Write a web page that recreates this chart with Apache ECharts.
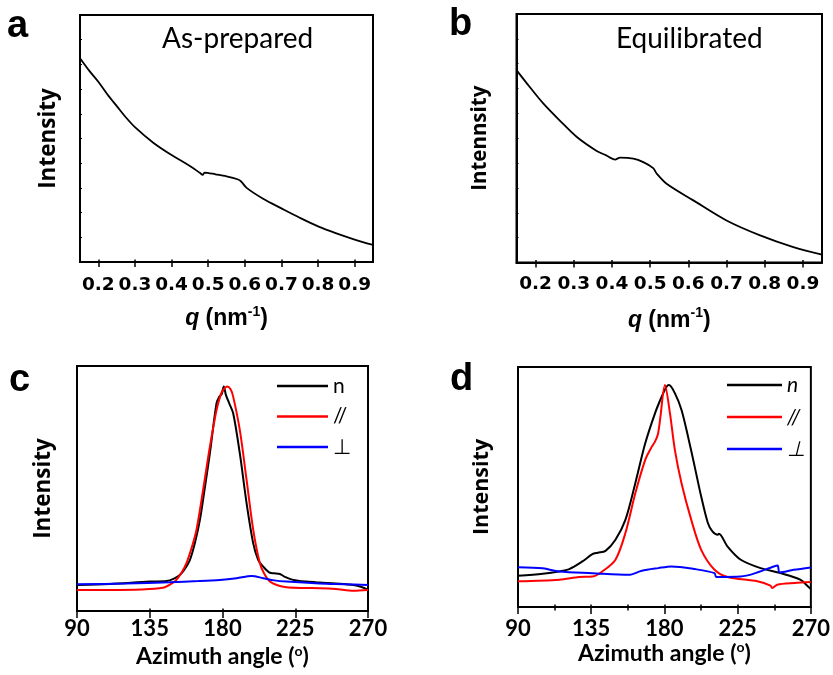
<!DOCTYPE html>
<html><head><meta charset="utf-8">
<script src="https://cdn.jsdelivr.net/npm/echarts@6/dist/echarts.min.js"></script>
<style>html,body{margin:0;padding:0;background:#fff}#c{width:833px;height:675px}</style>
</head><body><div id="c"></div><script>
// ---------- Panel a (As-prepared) ----------
const qA = [0.15,0.175,0.2,0.225,0.25,0.275,0.3,0.35,0.4,0.45,0.478,0.485,0.49,0.52,0.55,0.58,0.59,0.605,0.65,0.7,0.75,0.8,0.85,0.9,0.95];
const iA = [82.5,77.5,73.0,67.8,63.2,58.6,54.6,48.3,43.3,38.9,36.0,35.3,36.2,35.5,34.7,33.5,32.6,30.0,25.6,21.7,17.9,14.4,11.6,9.1,6.9];
// ---------- Panel b (Equilibrated) ----------
const qB = [0.15,0.177,0.22,0.264,0.308,0.36,0.385,0.408,0.421,0.456,0.482,0.508,0.517,0.543,0.613,0.7,0.788,0.875,0.95];
const iB = [77.4,72.1,64.0,57.0,50.5,44.9,43.1,41.4,42.2,41.8,40.4,38.0,35.8,31.7,25.0,16.9,10.9,6.2,3.2];
// ---------- Panel c ----------
const aC_n = [90,110,135,145.4,150,153.6,156.5,159.8,163,166,169,172.2,176.3,178,179.5,180.8,182.1,184,186.6,190.7,194.9,199,202,205.2,209.3,212,215.5,219,223.7,232,240.3,250,261,266,270];
const vC_n = [10.6,11.0,12.0,12.2,13.2,14.7,17,20.8,28,37.1,50,64.4,84.8,87.5,88.5,91.6,88.2,85,80.7,64.4,44.0,27.6,21,18.1,15.6,15.4,15.1,13.8,12.7,12.0,11.6,11.2,10.6,9.8,8.6];
const aC_par = [90,110,130,143,148,151.5,155,157.7,161,163.9,168,172.2,176.3,179,180.4,182.9,185,186.6,190.7,194.9,199,203.1,206,209.3,214,219.6,230,240.3,250,261,270];
const vC_par = [8.6,8.6,8.8,9.5,11,12.7,16,19.5,26,33.1,49.4,67.1,82.0,88.5,90.2,91.6,90.5,87.5,73.9,53.5,33.1,19.5,15,12.0,10.5,9.7,9.4,9.3,9.0,8.3,8.6];
const aC_perp = [90,120,147.4,165,178.4,188.7,198,205.2,212,219.6,240,255,270];
const vC_perp = [10.9,11.2,11.7,12.2,12.7,13.4,14.3,13.4,12.5,12.0,11.2,10.9,10.6];
// ---------- Panel d ----------
const aD_n = [90,105.2,115,121.5,129.6,135.7,139,143.8,149.9,156,162.1,168.2,174.2,178.3,181.3,182.8,186.4,190.5,194.5,198.6,202.6,206.7,209.5,212.8,213.5,218.8,226.9,239.1,251.3,263.5,268.6,270];
const vD_n = [13.0,13.9,14.8,15.8,19.0,22.0,22.6,23.4,28.0,36.3,51.6,68.2,80.7,87.6,91.8,92.5,89.1,82.1,71.0,58.5,46.0,35.0,31.5,30.1,30.5,25.2,19.7,16.2,14.1,11.4,8.3,7.5];
const aD_par = [90,115.4,127.6,135.7,141.8,149.9,156,162.1,168.2,172,174.2,176,177.3,180.3,183.4,186.4,190.5,196.5,202.6,210.8,218.8,237.1,245.2,246.2,249.3,260,270];
const vD_par = [10.7,11.4,12.5,12.7,14.8,19.7,30.8,47.4,61.3,66.5,68.9,72,77.9,92.5,80.7,65.5,51.6,36.3,23.8,15.5,12.5,10.7,8.9,7.9,9.3,10.0,10.4];
const aD_perp = [90,105.2,115.4,135.7,158,166.1,176.2,184.3,198.6,210.8,211.8,226.9,235,247.2,249.6,250.8,259.4,270];
const vD_perp = [16.6,16.1,14.8,14.1,13.4,15.1,16.2,16.9,15.8,14.1,12.5,12.7,13.9,16.9,17.3,14.4,15.5,16.5];
// ---------- ticks / labels ----------
const qTicks = [0.2,0.3,0.4,0.5,0.6,0.7,0.8,0.9];
const angTopC = [135,180,225];
const angTopD = [112.5,135,157.5,180,202.5,225,247.5];
const legendNames = ['n','//','\u22A5'];

const zip = (x, y) => x.map((v, i) => [v, y[i]]);
const BLK = '#000';
const boldArial = {fontFamily:'Liberation Sans', fontWeight:'bold', color:BLK};
const boldDejaVu = {fontFamily:'DejaVu Sans', fontWeight:'bold', color:BLK};
const boldLato = {fontFamily:'Lato', fontWeight:'bold', color:BLK};
const boldOpen = {fontFamily:'Open Sans', fontWeight:'bold', color:BLK};

const grids = [
  {left:80, top:15, width:293, height:247},
  {left:516.5, top:14, width:305.5, height:248.5},
  {left:77, top:366, width:291, height:245},
  {left:518, top:367, width:296, height:240}
].map(g => Object.assign({show:true, borderColor:BLK, borderWidth:2, backgroundColor:'transparent'}, g));

function qAxis(gi, margin, gap){
  return {type:'value', gridIndex:gi, min:0.15, max:0.95,
    axisLine:{show:true, onZero:false, lineStyle:{color:BLK, width:2}},
    axisTick:{show:true, customValues:qTicks, length:5, lineStyle:{color:BLK, width:1.5}},
    axisLabel:Object.assign({customValues:qTicks, formatter:v=>v.toFixed(1), margin:margin, fontSize:18.5}, boldDejaVu),
    splitLine:{show:false},
    name:'{i|q} (nm{s|-1})', nameLocation:'middle', nameGap:gap,
    nameTextStyle:Object.assign({fontSize:23, lineHeight:28, rich:{
      i:{fontStyle:'italic', fontWeight:'bold', fontFamily:'Liberation Sans', fontSize:23, lineHeight:28, color:BLK},
      s:{fontWeight:'bold', fontFamily:'Liberation Sans', fontSize:14, lineHeight:14, verticalAlign:'top', color:BLK}
    }}, boldArial)
  };
}
function angAxis(gi, margin, gap, minor){
  return {type:'value', gridIndex:gi, min:90, max:270, interval:45,
    axisLine:{show:true, onZero:false, lineStyle:{color:BLK, width:2}},
    axisTick:{show:true, length:7, lineStyle:{color:BLK, width:1.5}},
    minorTick:{show:minor, splitNumber:2, length:3.5, lineStyle:{color:BLK, width:1.5}},
    axisLabel:Object.assign({margin:margin, fontSize:22, showMinLabel:true, showMaxLabel:true}, boldLato),
    splitLine:{show:false},
    name:'Azimuth angle ({s|o})', nameLocation:'middle', nameGap:gap,
    nameTextStyle:Object.assign({fontSize:23, lineHeight:26, rich:{
      s:{fontWeight:'bold', fontFamily:'Lato', fontSize:14, lineHeight:14, verticalAlign:'top', color:BLK}
    }}, boldLato)
  };
}
function topAxis(gi, min, max, vals){
  return {type:'value', gridIndex:gi, position:'top', min:min, max:max,
    axisLine:{show:false}, axisLabel:{show:false}, splitLine:{show:false},
    axisTick:{show:true, customValues:vals, length:2.5, lineStyle:{color:BLK, width:1.5}}};
}
function yAxis(gi, name, size, gap, ticks){
  return {type:'value', gridIndex:gi, min:0, max:100, interval:10,
    axisLine:{show:true, onZero:false, lineStyle:{color:BLK, width:2}},
    axisTick:{show:ticks, inside:true, length:2, lineStyle:{color:BLK, width:1}},
    axisLabel:{show:false}, splitLine:{show:false},
    name:name, nameLocation:'middle', nameRotate:90, nameGap:gap,
    nameTextStyle:Object.assign({fontSize:size}, boldOpen)};
}
function line(name, xi, data, color, w){
  return {name:name, type:'line', xAxisIndex:xi, yAxisIndex:xi, data:data,
    showSymbol:false, symbol:'none', smooth:0.3, silent:true,
    lineStyle:{color:color, width:w}, itemStyle:{color:color}};
}
const letter = (t, l, tp) => ({text:t, left:l, top:tp, padding:0,
  textStyle:Object.assign({fontSize:38}, boldArial)});
const sampleTitle = (t, l, tp) => ({text:t, left:l, top:tp, padding:0,
  textStyle:{fontFamily:'Lato', fontWeight:'normal', fontSize:28, color:BLK}});

function legend(names, left, top, gap, w, italic){
  return {orient:'vertical', left:left, top:top, padding:0, itemGap:gap,
    itemWidth:w, itemHeight:2.5, itemTextGap:italic?4:7, icon:'rect',
    data:names, selectedMode:false,
    formatter: n => n.replace(' (d)',''),
    textStyle:{fontFamily:'Lato', fontSize:21, lineHeight:21, color:BLK, fontStyle:italic?'italic':'normal'}};
}

const option = {
  animation:false,
  backgroundColor:'#fff',
  title:[letter('a',7,8), letter('b',449,6), letter('c',9,362), letter('d',450,361),
         sampleTitle('As-prepared',162,25), sampleTitle('Equilibrated',616,25)],
  grid:grids,
  xAxis:[qAxis(0,14,43), qAxis(1,12,44), angAxis(2,7,33,false), angAxis(3,10.5,30,true),
         topAxis(0,0.15,0.95,qTicks), topAxis(1,0.15,0.95,qTicks), topAxis(2,90,270,angTopC), topAxis(3,90,270,angTopD)],
  yAxis:[yAxis(0,'Intensity',22.5,20,true), yAxis(1,'Intennsity',20.5,26,true), yAxis(2,'Intensity',22.5,22,false), yAxis(3,'Intensity',21.5,25,false)],
  legend:[
    legend(legendNames, 277, 375.5, 9.5, 51, false),
    legend(legendNames.map(n=>n+' (d)'), 727, 374.5, 11, 55, true)
  ],
  series:[
    line('a', 0, zip(qA,iA), BLK, 1.8),
    line('b', 1, zip(qB,iB), BLK, 1.8),
    line('n', 2, zip(aC_n,vC_n), BLK, 2),
    line('//', 2, zip(aC_par,vC_par), '#ff0000', 2),
    line('\u22A5', 2, zip(aC_perp,vC_perp), '#0000ff', 2),
    line('n (d)', 3, zip(aD_n,vD_n), BLK, 2),
    line('// (d)', 3, zip(aD_par,vD_par), '#ff0000', 2),
    line('\u22A5 (d)', 3, zip(aD_perp,vD_perp), '#0000ff', 2)
  ]
};
const chart = echarts.init(document.getElementById('c'), null, {renderer:'canvas'});
chart.setOption(option);
</script></body></html>
